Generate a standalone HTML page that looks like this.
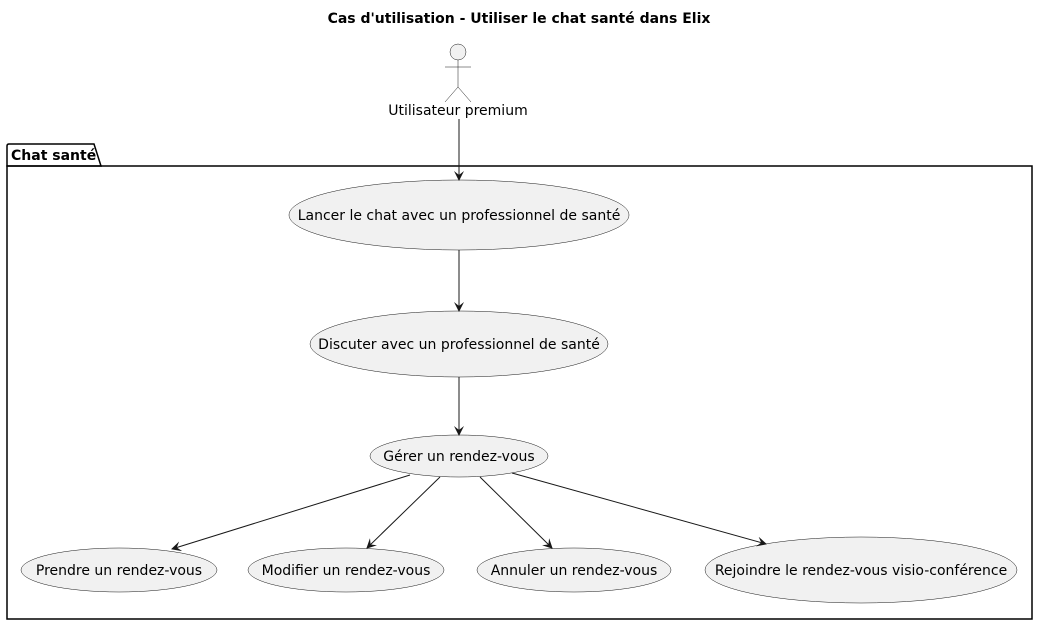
<!DOCTYPE html>
<html><head><meta charset="utf-8"><style>
body{margin:0;background:#fff}
svg{display:block;font-family:"DejaVu Sans","Liberation Sans",sans-serif}
</style></head><body>
<svg width="1039" height="625" viewBox="0 0 1039 625">
<defs><marker id="a" markerWidth="10" markerHeight="10" refX="9" refY="5" orient="auto" markerUnits="userSpaceOnUse"><path d="M0,0 L10,5 L0,10 L4,5 Z" fill="#181818"/></marker></defs>
<text x="519" y="23" text-anchor="middle" font-size="14" font-weight="bold">Cas d'utilisation - Utiliser le chat santé dans Elix</text>
<g stroke="#181818" stroke-width="0.5" fill="#f1f1f1">
<circle cx="458" cy="52" r="8"/>
<path d="M458,60 V87 M445,67 H471 M445,102 L458,87 L471,102" fill="none"/>
</g>
<text x="458" y="115" text-anchor="middle" font-size="14">Utilisateur premium</text>
<path d="M7,166 V146 Q7,144 9,144 H94 L101,166 Z" fill="none" stroke="#000" stroke-width="1.5"/>
<rect x="7" y="166" width="1025" height="453" fill="none" stroke="#000" stroke-width="1.5"/>
<text x="11" y="160" font-size="14" font-weight="bold">Chat santé</text>
<g stroke="#181818" stroke-width="0.5" fill="#f1f1f1">
<ellipse cx="459" cy="215" rx="170" ry="35"/>
<ellipse cx="459" cy="344" rx="149" ry="33"/>
<ellipse cx="459" cy="456" rx="89" ry="21"/>
<ellipse cx="119" cy="570" rx="98" ry="22"/>
<ellipse cx="346" cy="570" rx="98" ry="22"/>
<ellipse cx="574" cy="570" rx="97" ry="22"/>
<ellipse cx="861" cy="570" rx="156" ry="33"/>
</g>
<g font-size="14" text-anchor="middle">
<text x="459" y="220">Lancer le chat avec un professionnel de santé</text>
<text x="459" y="349">Discuter avec un professionnel de santé</text>
<text x="459" y="461">Gérer un rendez-vous</text>
<text x="119" y="575">Prendre un rendez-vous</text>
<text x="346" y="575">Modifier un rendez-vous</text>
<text x="574" y="575">Annuler un rendez-vous</text>
<text x="861" y="575">Rejoindre le rendez-vous visio-conférence</text>
</g>
<g stroke="#181818" stroke-width="1" marker-end="url(#a)">
<line x1="459" y1="119" x2="459" y2="180"/>
<line x1="459" y1="250" x2="459" y2="311"/>
<line x1="459" y1="377" x2="459" y2="435"/>
<line x1="410" y1="475" x2="172" y2="549"/>
<line x1="440" y1="477" x2="367" y2="548"/>
<line x1="480" y1="477" x2="552" y2="548"/>
<line x1="512" y1="473" x2="766" y2="544"/>
</g>
</svg>
</body></html>
